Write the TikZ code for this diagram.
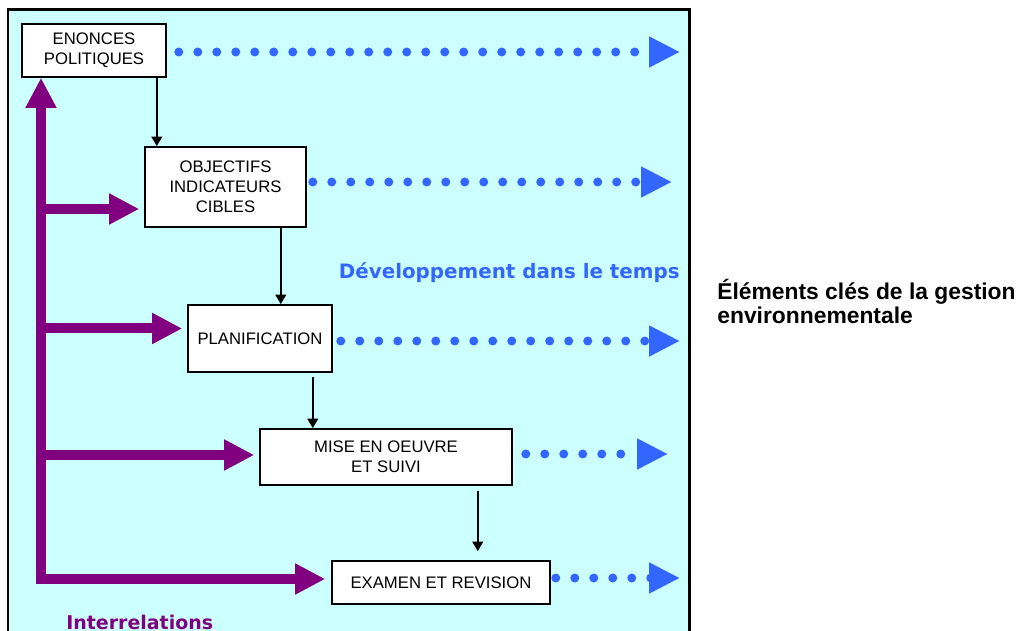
\documentclass[tikz,border=0pt]{standalone}
\usepackage{fontspec}
\setmainfont{Liberation Sans}
\newfontfamily\tahoma{DejaVu Sans}
\usepackage{tikz}
\usetikzlibrary{positioning, arrows.meta, calc}
\usepackage{xcolor}
\definecolor{bgcyan}{HTML}{CCFFFF}
\definecolor{interpurple}{HTML}{800080}
\definecolor{timeblue}{HTML}{3366FF}

\begin{document}
\begin{tikzpicture}[
  x=0.02cm, y=-0.02cm,
  Relhead/.tip={Triangle[length=0.6cm, width=0.58cm]},
  Timehead/.tip={Triangle[length=0.62cm, width=0.58cm]},
  stage/.style={draw, fill=white, line width=0.9pt, align=center,
                inner sep=0pt, font=\fontsize{9.5pt}{11.5pt}\selectfont},
  down/.style={-{Triangle[length=5.5pt, width=6pt]}, line width=1.4pt},
  relation/.style={interpurple, line width=0.2cm, -Relhead,
                   shorten >=0.1cm},
  timeline/.style={timeblue, line width=0.18cm, line cap=round,
                   dash pattern=on 0pt off 0.38cm, -Timehead},
  caption/.style={inner sep=0pt, font=\tahoma\bfseries\fontsize{11.3pt}{13pt}\selectfont}
]
\useasboundingbox (0,0) rectangle (1031,631);
\fill[bgcyan] (8,10) rectangle (689,631);
\draw[line width=0.06cm] (8,631) -- (8,10) -- (689,10) -- (689,631);

\node[stage, minimum width=2.88cm, minimum height=1.06cm] (enonces) at (94,50.5)
  {ENONCES\\POLITIQUES};
\node[stage, minimum width=3.22cm, minimum height=1.6cm] (objectifs) at (225.5,187)
  {OBJECTIFS\\INDICATEURS\\CIBLES};
\node[stage, minimum width=2.88cm, minimum height=1.34cm] (planif) at (260,338.5)
  {PLANIFICATION};
\node[stage, minimum width=5.04cm, minimum height=1.12cm] (suivi) at (386,457)
  {MISE EN OEUVRE\\ET SUIVI};
\node[stage, minimum width=4.36cm, minimum height=0.86cm] (examen) at (441,582.5)
  {EXAMEN ET REVISION};

\draw[down] ($(enonces.south east)+(-10,0)$) coordinate (d1) -- (d1 |- objectifs.north);
\draw[down] ($(objectifs.south east)+(-26,0)$) coordinate (d2) -- (d2 |- planif.north);
\draw[down, shorten <=0.08cm] ($(planif.south east)+(-20,0)$) coordinate (d3) -- (d3 |- suivi.north);
\draw[down, shorten <=0.1cm, shorten >=0.18cm] ($(suivi.south east)+(-35,0)$) coordinate (d4)
  -- (d4 |- examen.north);

\coordinate (end1) at (680,0);
\coordinate (end2) at (672,0);
\coordinate (end4) at (668,0);
\draw[timeline] ($(enonces.east)+(12,1.5)$) coordinate (s1) -- (s1 -| end1);
\draw[timeline] ($(objectifs.east)+(6,-5)$) coordinate (s2) -- (s2 -| end2);
\draw[timeline] ($(planif.east)+(8,2.5)$) coordinate (s3) -- (s3 -| end1);
\draw[timeline] ($(suivi.east)+(13,-3)$) coordinate (s4) -- (s4 -| end4);
\draw[timeline] ($(examen.east)+(5,-4.5)$) coordinate (s5) -- (s5 -| end1);

\coordinate (corner) at (41,579);
\draw[relation, Relhead-Relhead, shorten >=0.12cm] (corner |- enonces.south) -- (corner)
  -- (corner -| examen.west);
\draw[relation] ($(corner |- objectifs.west)+(0,22)$) -- ($(objectifs.west)+(0,22)$);
\draw[relation] ($(corner |- planif.west)+(0,-10)$) -- ($(planif.west)+(0,-10)$);
\draw[relation] ($(corner |- suivi.west)+(-5,-2)$) -- ($(suivi.west)+(0,-2)$);

\node[caption, text=timeblue, anchor=east] (devel) at (680,273)
  {Développement dans le temps};
\node[caption, text=interpurple, anchor=west,
      font=\tahoma\bfseries\fontsize{10.8pt}{13pt}\selectfont]
  (interrel) at (66,622) {Interrelations};
\node[inner sep=0pt, align=left, anchor=west, font=\bfseries\fontsize{13pt}{13.5pt}\selectfont]
  (titre) at (717,301.5) {Éléments clés de la gestion\\environnementale};
\end{tikzpicture}
\end{document}
